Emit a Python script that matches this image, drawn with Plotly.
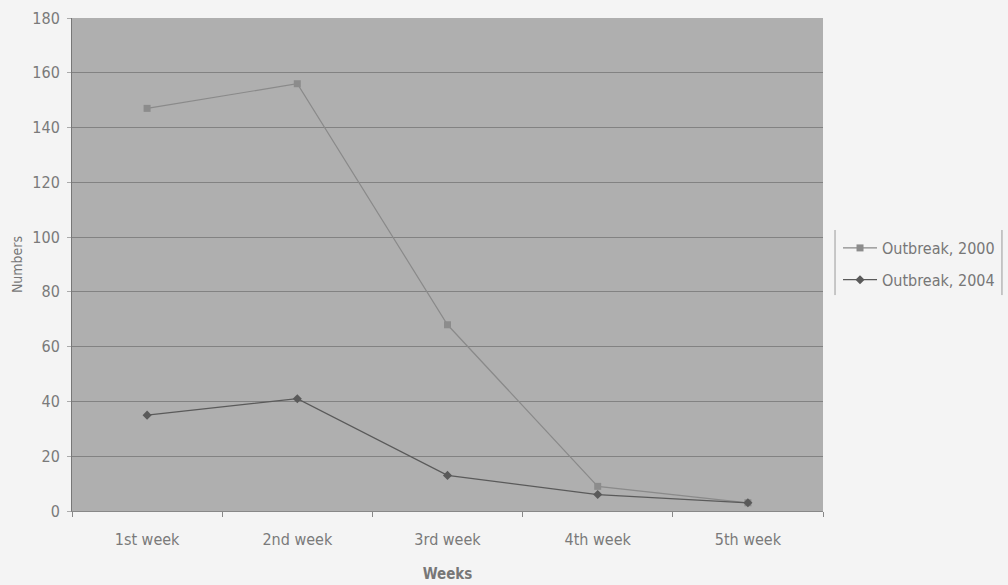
import plotly.graph_objects as go

weeks = ["1st week", "2nd week", "3rd week", "4th week", "5th week"]
outbreak_2000 = [147, 156, 68, 9, 3]
outbreak_2004 = [35, 41, 13, 6, 3]
y_ticks = [0, 20, 40, 60, 80, 100, 120, 140, 160, 180]

FONT = "Liberation Sans Narrow, Arial Narrow, DejaVu Sans Condensed, sans-serif"

fig = go.Figure()
fig.add_trace(go.Scatter(
    x=weeks, y=outbreak_2000, name="Outbreak, 2000", mode="lines+markers",
    legendgroup="a",
    line=dict(color="#8a8a8a", width=1.2),
    marker=dict(symbol="square", size=7, color="#8c8c8c"),
))
fig.add_trace(go.Scatter(
    x=weeks, y=outbreak_2004, name="Outbreak, 2004", mode="lines+markers",
    legendgroup="b",
    line=dict(color="#5a5a5a", width=1.2),
    marker=dict(symbol="diamond", size=7, color="#5a5a5a"),
))

fig.update_layout(
    width=1008, height=585,
    margin=dict(l=72, r=185, t=18, b=74, autoexpand=False),
    paper_bgcolor="#f4f4f4",
    plot_bgcolor="#afafaf",
    font=dict(family=FONT, size=15, color="#7a7a7a"),
    showlegend=True,
    legend=dict(
        x=1.02, y=0.501, xanchor="left", yanchor="middle",
        bgcolor="rgba(0,0,0,0)", borderwidth=0,
        font=dict(size=16, color="#777777"),
        traceorder="grouped", tracegroupgap=8,
        itemwidth=34,
    ),
    xaxis=dict(
        type="category", range=[-0.5, 4.5], automargin=False,
        showgrid=False, tickson="boundaries",
        ticks="outside", ticklen=5, tickcolor="#888",
        showline=True, linecolor="#888", linewidth=1,
        ticklabelstandoff=14,
        title=dict(text="<b>Weeks</b>", font=dict(size=15, color="#777"), standoff=20),
        tickfont=dict(size=16, color="#7a7a7a"),
    ),
    yaxis=dict(
        range=[0, 180], tickvals=y_ticks, automargin=False,
        showgrid=True, gridcolor="#828282", gridwidth=1,
        ticks="outside", ticklen=4, tickcolor="#aaa",
        showline=True, linecolor="#777", linewidth=1,
        zeroline=False,
        ticklabelstandoff=4,
        title=dict(text="Numbers", font=dict(size=14, color="#777"), standoff=6),
        tickfont=dict(size=16, color="#7a7a7a"),
    ),
)

# legend side bars (as in the reference)
for xp in [1.016, 1.2383]:
    fig.add_shape(type="line", xref="paper", yref="paper",
                  x0=xp, x1=xp, y0=0.438, y1=0.570,
                  line=dict(color="#999999", width=1))

fig.write_html(
    "out.html",
    config={"displayModeBar": False},
    post_script="document.body.style.margin='0';document.body.style.overflow='hidden';",
)
